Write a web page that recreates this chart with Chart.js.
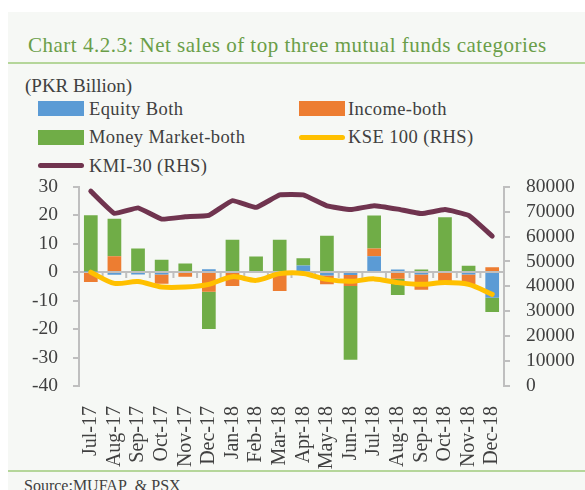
<!DOCTYPE html>
<html lang="en">
<head>
    <meta charset="UTF-8">
    <title>Chart 4.2.3</title>
    <script src="https://cdn.jsdelivr.net/npm/chart.js"></script>
    <style>
        html, body { margin: 0; padding: 0; background: #fff; }
        body { width: 585px; height: 490px; position: relative; overflow: hidden; font-family: "Liberation Serif", serif; color: #404040; }
        .panel { position: absolute; left: 8px; top: 12px; right: 0; bottom: 0; background: #F6F8F5; }
        .txt { position: absolute; line-height: 1; white-space: nowrap; }
        .leg { font-size: 18.5px; letter-spacing: 0.4px; }
        .rule { position: absolute; left: 8px; right: 0; height: 2px; background: #B5D69A; }
        .sw { position: absolute; width: 46px; height: 15px; }
        .ln { position: absolute; width: 46px; height: 5px; border-radius: 3px; }
        #wrap { position: absolute; left: 0; top: 159px; width: 585px; height: 310px; }
    </style>
</head>
<body>
    <div class="panel"></div>
    <div class="txt" style="left:28px; top:35px; font-size:21px; letter-spacing:0.5px; color:#6A9E48;">Chart 4.2.3: Net sales of top three mutual funds categories</div>
    <div class="rule" style="top:62px;"></div>
    <div class="txt" style="left:25px; top:76px; font-size:19px;">(PKR Billion)</div>

    <!-- Legend -->
    <div class="sw" style="left:38px; top:101px; background:#5B9BD5;"></div>
    <div class="txt leg" style="left:89px; top:99.5px;">Equity Both</div>
    <div class="sw" style="left:299px; top:101px; background:#ED7D31;"></div>
    <div class="txt leg" style="left:348px; top:99.5px;">Income-both</div>
    <div class="sw" style="left:38px; top:129.5px; background:#70AD47;"></div>
    <div class="txt leg" style="left:89px; top:128px;">Money Market-both</div>
    <div class="ln" style="left:299px; top:134.5px; background:#FFC000;"></div>
    <div class="txt leg" style="left:348px; top:128px;">KSE 100 (RHS)</div>
    <div class="ln" style="left:38px; top:163px; background:#70344F;"></div>
    <div class="txt leg" style="left:89px; top:156.5px;">KMI-30 (RHS)</div>

    <div id="wrap"><canvas id="chart"></canvas></div>

    <div class="rule" style="top:470px;"></div>
    <div class="txt" style="left:24px; top:478px; font-size:16px;">Source:MUFAP&nbsp; &amp; PSX</div>

    <script>
        // Data (PKR billion for bars, index points for lines)
        const labels = ['Jul-17', 'Aug-17', 'Sep-17', 'Oct-17', 'Nov-17', 'Dec-17', 'Jan-18', 'Feb-18', 'Mar-18',
            'Apr-18', 'May-18', 'Jun-18', 'Jul-18', 'Aug-18', 'Sep-18', 'Oct-18', 'Nov-18', 'Dec-18'];
        const equity = [0.2, -0.9, -0.8, -0.8, 0, 1.0, 0, 0, 0, 2.3, -1.2, -1.0, 5.6, 0.9, -0.8, 0, -0.8, -9.0];
        const income = [-3.5, 5.6, 0, -3.3, -1.6, -6.9, -4.9, 0, -6.6, 0, -3.1, -3.9, 2.7, -2.3, -5.4, -3.2, -3.5, 1.7];
        const moneyMarket = [19.8, 13.1, 8.3, 4.3, 3.0, -13.1, 11.4, 5.5, 11.4, 2.6, 12.8, -25.9, 11.6, -5.7, 0.9, 19.3, 2.2, -5.0];
        const kse100 = [45700, 41200, 41900, 39700, 39700, 40800, 43900, 42400, 45100, 45200, 42800, 42000, 43000, 41500, 40800, 41500, 40800, 36800];
        const kmi30 = [78200, 69300, 71500, 67000, 67900, 68500, 74400, 71700, 76700, 76700, 72300, 70800, 72400, 71000, 69200, 70800, 68500, 60200];
        const leftRange = [-40, 30];
        const rightRange = [0, 80000];

        const axisGray = '#BFBFBF';
        const tickFont = { family: 'Liberation Serif', size: 19.5 };

        // zero line with category tick marks (Excel style axis crossing)
        const zeroAxis = {
            id: 'zeroAxis',
            beforeDatasetsDraw(chart) {
                const { ctx, chartArea, scales } = chart;
                const y0 = scales.y.getPixelForValue(0);
                ctx.save();
                ctx.strokeStyle = axisGray;
                ctx.lineWidth = 2;
                ctx.beginPath();
                ctx.moveTo(chartArea.left, y0);
                ctx.lineTo(chartArea.right, y0);
                for (let i = 1; i < labels.length; i++) {
                    const x = (scales.x.getPixelForValue(i - 1) + scales.x.getPixelForValue(i)) / 2;
                    ctx.moveTo(x, y0);
                    ctx.lineTo(x, y0 + 6);
                }
                ctx.stroke();
                ctx.restore();
            }
        };

        new Chart(document.getElementById('chart'), {
            type: 'bar',
            data: {
                labels: labels,
                datasets: [
                    { type: 'line', label: 'KSE 100 (RHS)', data: kse100, yAxisID: 'y1', borderColor: '#FFC000', borderWidth: 5, pointRadius: 0, tension: 0.3, borderCapStyle: 'round', order: 0 },
                    { type: 'line', label: 'KMI-30 (RHS)', data: kmi30, yAxisID: 'y1', borderColor: '#70344F', borderWidth: 5, pointRadius: 0, tension: 0.1, borderCapStyle: 'round', order: 0 },
                    { label: 'Equity Both', data: equity, backgroundColor: '#5B9BD5', order: 1 },
                    { label: 'Income-both', data: income, backgroundColor: '#ED7D31', order: 1 },
                    { label: 'Money Market-both', data: moneyMarket, backgroundColor: '#70AD47', order: 1 }
                ]
            },
            options: {
                responsive: true,
                maintainAspectRatio: false,
                animation: false,
                datasets: { bar: { categoryPercentage: 1, barPercentage: 0.58 } },
                layout: { padding: { top: 10 } },
                plugins: { legend: { display: false }, tooltip: { enabled: false } },
                scales: {
                    x: {
                        stacked: true,
                        grid: { display: false },
                        border: { display: false },
                        ticks: { color: '#404040', font: { family: 'Liberation Serif', size: 20 }, maxRotation: 90, minRotation: 90, padding: 12, autoSkip: false },
                        afterFit(scale) { scale.height = 83; }
                    },
                    y: {
                        stacked: true,
                        min: leftRange[0],
                        max: leftRange[1],
                        ticks: { stepSize: 10, color: '#404040', font: tickFont, padding: 15, autoSkip: false },
                        grid: { drawOnChartArea: false, color: axisGray, lineWidth: 2, tickLength: 6 },
                        border: { color: axisGray, width: 2 },
                        afterFit(scale) { scale.width = 79; }
                    },
                    y1: {
                        position: 'right',
                        min: rightRange[0],
                        max: rightRange[1],
                        ticks: { stepSize: 10000, color: '#404040', font: tickFont, padding: 16, autoSkip: false, callback: v => String(v) },
                        grid: { drawOnChartArea: false, color: axisGray, lineWidth: 2, tickLength: 6 },
                        border: { color: axisGray, width: 2 },
                        afterFit(scale) { scale.width = 81; }
                    }
                }
            },
            plugins: [zeroAxis]
        });
    </script>
</body>
</html>
